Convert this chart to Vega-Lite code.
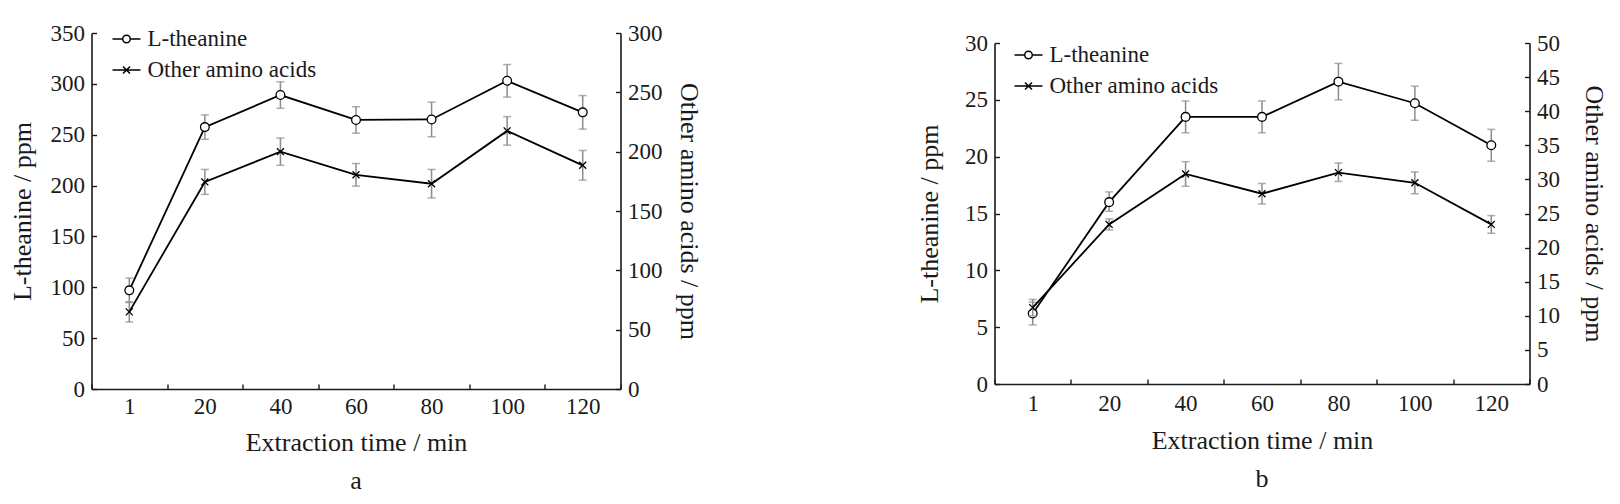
{
  "$schema": "https://vega.github.io/schema/vega-lite/v6.json",
  "background": "white",
  "padding": {"left": 8.5, "top": 22, "right": 5, "bottom": 5},
  "bounds": "flush",
  "spacing": 374,
  "resolve": {"scale": {"shape": "independent"}, "legend": {"shape": "independent"}},
  "config": {
    "view": {"stroke": null},
    "font": "Liberation Serif",
    "axis": {
      "domainColor": "#1a1a1a", "domainWidth": 1.6,
      "tickColor": "#1a1a1a", "tickWidth": 1.4, "tickSize": -5,
      "labelFont": "Liberation Serif", "labelFontSize": 23, "labelColor": "#1a1a1a",
      "titleFont": "Liberation Serif", "titleFontSize": 26, "titleFontWeight": "normal", "titleColor": "#1a1a1a",
      "grid": false
    },
    "axisX": {"labelPadding": 11, "titlePadding": 11, "labelAngle": 0, "tickBand": "extent"},
    "axisLeft": {"labelPadding": 12, "titlePadding": 15},
    "axisRight": {"labelPadding": 12, "titlePadding": 13},
    "legend": {"labelFont": "Liberation Serif", "labelFontSize": 23, "labelColor": "#1a1a1a", "labelLimit": 0, "labelOffset": 6, "rowPadding": 4, "symbolSize": 784, "padding": 0, "symbolStrokeWidth": 1.5, "symbolStrokeColor": "black", "symbolOpacity": 1},
    "title": {"font": "Liberation Serif", "fontSize": 26, "fontWeight": "normal", "color": "#1a1a1a", "orient": "bottom", "offset": 13}
  },
  "hconcat": [
    {
      "width": 529,
      "height": 356,
      "title": {"text": "a"},
      "data": {"values": [
        {"time": 1, "th": 97, "th_lo": 85, "th_hi": 109, "ot": 65, "ot_lo": 56.5, "ot_hi": 73.5},
        {"time": 20, "th": 257.5, "th_lo": 245.5, "th_hi": 269.5, "ot": 174.5, "ot_lo": 164, "ot_hi": 185},
        {"time": 40, "th": 289, "th_lo": 276, "th_hi": 302, "ot": 200, "ot_lo": 188.5, "ot_hi": 211.5},
        {"time": 60, "th": 264.5, "th_lo": 251.5, "th_hi": 277.5, "ot": 180.5, "ot_lo": 171, "ot_hi": 190},
        {"time": 80, "th": 265, "th_lo": 248, "th_hi": 282, "ot": 173, "ot_lo": 161, "ot_hi": 185},
        {"time": 100, "th": 303, "th_lo": 287, "th_hi": 319, "ot": 217.5, "ot_lo": 205.5, "ot_hi": 229.5},
        {"time": 120, "th": 272, "th_lo": 255.5, "th_hi": 288.5, "ot": 188.5, "ot_lo": 176, "ot_hi": 201}
      ]},
      "encoding": {
        "x": {"field": "time", "type": "ordinal", "scale": {"type": "band", "paddingInner": 0, "paddingOuter": 0}, "axis": {"title": "Extraction time / min"}}
      },
      "layer": [
        {
          "layer": [
            {"mark": {"type": "errorbar", "color": "#8c8c8c", "thickness": 1.5, "ticks": {"size": 8, "color": "#8c8c8c", "thickness": 1.5}},
             "encoding": {"y": {"field": "th_lo", "type": "quantitative", "scale": {"domain": [0, 350]}, "axis": {"title": "L-theanine / ppm", "orient": "left", "titlePadding": 15, "values": [0, 50, 100, 150, 200, 250, 300, 350]}}, "y2": {"field": "th_hi"}}},
            {"mark": {"type": "line", "color": "black", "strokeWidth": 1.8},
             "encoding": {"y": {"field": "th", "type": "quantitative", "scale": {"domain": [0, 350]}, "axis": {"title": "L-theanine / ppm", "orient": "left", "titlePadding": 15, "values": [0, 50, 100, 150, 200, 250, 300, 350]}}}},
            {"mark": {"type": "point", "shape": "circle", "filled": false, "fill": "white", "stroke": "black", "strokeWidth": 1.3, "size": 76, "opacity": 1},
             "encoding": {"y": {"field": "th", "type": "quantitative", "scale": {"domain": [0, 350]}, "axis": {"title": "L-theanine / ppm", "orient": "left", "titlePadding": 15, "values": [0, 50, 100, 150, 200, 250, 300, 350]}}}},
            {"mark": {"type": "point", "filled": false, "stroke": "black", "strokeWidth": 1.5, "size": 784, "opacity": 0},
             "encoding": {
               "y": {"field": "th", "type": "quantitative", "scale": {"domain": [0, 350]}, "axis": {"title": "L-theanine / ppm", "orient": "left", "titlePadding": 15, "values": [0, 50, 100, 150, 200, 250, 300, 350]}},
               "shape": {"datum": "L-theanine", "type": "nominal",
                 "scale": {"domain": ["L-theanine", "Other amino acids"], "range": ["M-1,0H-0.27M0.27,0H1M-0.27,0A0.27,0.27,0,1,0,0.27,0A0.27,0.27,0,1,0,-0.27,0", "M-1,0H1M-0.25,-0.25L0.25,0.25M-0.25,0.25L0.25,-0.25"]},
                 "legend": {"title": null, "orient": "none", "legendX": 20, "legendY": -9, "labelFont": "Liberation Serif", "labelFontSize": 23}}
             }}
          ]
        },
        {
          "layer": [
            {"mark": {"type": "errorbar", "color": "#8c8c8c", "thickness": 1.5, "ticks": {"size": 8, "color": "#8c8c8c", "thickness": 1.5}},
             "encoding": {"y": {"field": "ot_lo", "type": "quantitative", "scale": {"domain": [0, 300]}, "axis": {"title": "Other amino acids / ppm", "orient": "right", "titlePadding": 13, "values": [0, 50, 100, 150, 200, 250, 300]}}, "y2": {"field": "ot_hi"}}},
            {"mark": {"type": "line", "color": "black", "strokeWidth": 1.8},
             "encoding": {"y": {"field": "ot", "type": "quantitative", "scale": {"domain": [0, 300]}, "axis": {"title": "Other amino acids / ppm", "orient": "right", "titlePadding": 13, "values": [0, 50, 100, 150, 200, 250, 300]}}}},
            {"mark": {"type": "point", "shape": "M-0.8,-0.8L0.8,0.8M-0.8,0.8L0.8,-0.8", "filled": false, "stroke": "black", "strokeWidth": 1.3, "size": 76, "opacity": 1},
             "encoding": {"y": {"field": "ot", "type": "quantitative", "scale": {"domain": [0, 300]}, "axis": {"title": "Other amino acids / ppm", "orient": "right", "titlePadding": 13, "values": [0, 50, 100, 150, 200, 250, 300]}}}}
          ]
        }
      ],
      "resolve": {"scale": {"y": "independent"}}
    },
    {
      "width": 535,
      "height": 351,
      "title": {"text": "b"},
      "data": {"values": [
        {"time": 1, "th": 6.2, "th_lo": 5.2, "th_hi": 7.2, "ot": 11.2, "ot_lo": 10.0, "ot_hi": 12.4},
        {"time": 20, "th": 16.0, "th_lo": 15.2, "th_hi": 16.9, "ot": 23.4, "ot_lo": 22.6, "ot_hi": 24.2},
        {"time": 40, "th": 23.5, "th_lo": 22.1, "th_hi": 24.9, "ot": 30.8, "ot_lo": 29.0, "ot_hi": 32.6},
        {"time": 60, "th": 23.5, "th_lo": 22.1, "th_hi": 24.9, "ot": 27.9, "ot_lo": 26.4, "ot_hi": 29.4},
        {"time": 80, "th": 26.6, "th_lo": 25.0, "th_hi": 28.2, "ot": 31.0, "ot_lo": 29.7, "ot_hi": 32.4},
        {"time": 100, "th": 24.7, "th_lo": 23.2, "th_hi": 26.2, "ot": 29.5, "ot_lo": 27.9, "ot_hi": 31.1},
        {"time": 120, "th": 21.0, "th_lo": 19.6, "th_hi": 22.4, "ot": 23.4, "ot_lo": 22.1, "ot_hi": 24.7}
      ]},
      "encoding": {
        "x": {"field": "time", "type": "ordinal", "scale": {"type": "band", "paddingInner": 0, "paddingOuter": 0}, "axis": {"title": "Extraction time / min", "labelPadding": 13, "titlePadding": 12}}
      },
      "layer": [
        {
          "layer": [
            {"mark": {"type": "errorbar", "color": "#8c8c8c", "thickness": 1.5, "ticks": {"size": 8, "color": "#8c8c8c", "thickness": 1.5}},
             "encoding": {"y": {"field": "th_lo", "type": "quantitative", "scale": {"domain": [0, 30], "range": [351, 10]}, "axis": {"title": "L-theanine / ppm", "orient": "left", "titlePadding": 22, "values": [0, 5, 10, 15, 20, 25, 30]}}, "y2": {"field": "th_hi"}}},
            {"mark": {"type": "line", "color": "black", "strokeWidth": 1.8},
             "encoding": {"y": {"field": "th", "type": "quantitative", "scale": {"domain": [0, 30], "range": [351, 10]}, "axis": {"title": "L-theanine / ppm", "orient": "left", "titlePadding": 22, "values": [0, 5, 10, 15, 20, 25, 30]}}}},
            {"mark": {"type": "point", "shape": "circle", "filled": false, "fill": "white", "stroke": "black", "strokeWidth": 1.3, "size": 76, "opacity": 1},
             "encoding": {"y": {"field": "th", "type": "quantitative", "scale": {"domain": [0, 30], "range": [351, 10]}, "axis": {"title": "L-theanine / ppm", "orient": "left", "titlePadding": 22, "values": [0, 5, 10, 15, 20, 25, 30]}}}},
            {"mark": {"type": "point", "filled": false, "stroke": "black", "strokeWidth": 1.5, "size": 784, "opacity": 0},
             "encoding": {
               "y": {"field": "th", "type": "quantitative", "scale": {"domain": [0, 30], "range": [351, 10]}, "axis": {"title": "L-theanine / ppm", "orient": "left", "titlePadding": 22, "values": [0, 5, 10, 15, 20, 25, 30]}},
               "shape": {"datum": "L-theanine", "type": "nominal",
                 "scale": {"domain": ["L-theanine", "Other amino acids"], "range": ["M-1,0H-0.27M0.27,0H1M-0.27,0A0.27,0.27,0,1,0,0.27,0A0.27,0.27,0,1,0,-0.27,0", "M-1,0H1M-0.25,-0.25L0.25,0.25M-0.25,0.25L0.25,-0.25"]},
                 "legend": {"title": null, "orient": "none", "legendX": 19, "legendY": 7, "labelFont": "Liberation Serif", "labelFontSize": 23}}
             }}
          ]
        },
        {
          "layer": [
            {"mark": {"type": "errorbar", "color": "#8c8c8c", "thickness": 1.5, "ticks": {"size": 8, "color": "#8c8c8c", "thickness": 1.5}},
             "encoding": {"y": {"field": "ot_lo", "type": "quantitative", "scale": {"domain": [0, 50], "range": [351, 10]}, "axis": {"title": "Other amino acids / ppm", "orient": "right", "titlePadding": 21, "values": [0, 5, 10, 15, 20, 25, 30, 35, 40, 45, 50]}}, "y2": {"field": "ot_hi"}}},
            {"mark": {"type": "line", "color": "black", "strokeWidth": 1.8},
             "encoding": {"y": {"field": "ot", "type": "quantitative", "scale": {"domain": [0, 50], "range": [351, 10]}, "axis": {"title": "Other amino acids / ppm", "orient": "right", "titlePadding": 21, "values": [0, 5, 10, 15, 20, 25, 30, 35, 40, 45, 50]}}}},
            {"mark": {"type": "point", "shape": "M-0.8,-0.8L0.8,0.8M-0.8,0.8L0.8,-0.8", "filled": false, "stroke": "black", "strokeWidth": 1.3, "size": 76, "opacity": 1},
             "encoding": {"y": {"field": "ot", "type": "quantitative", "scale": {"domain": [0, 50], "range": [351, 10]}, "axis": {"title": "Other amino acids / ppm", "orient": "right", "titlePadding": 21, "values": [0, 5, 10, 15, 20, 25, 30, 35, 40, 45, 50]}}}}
          ]
        }
      ],
      "resolve": {"scale": {"y": "independent"}}
    }
  ]
}
